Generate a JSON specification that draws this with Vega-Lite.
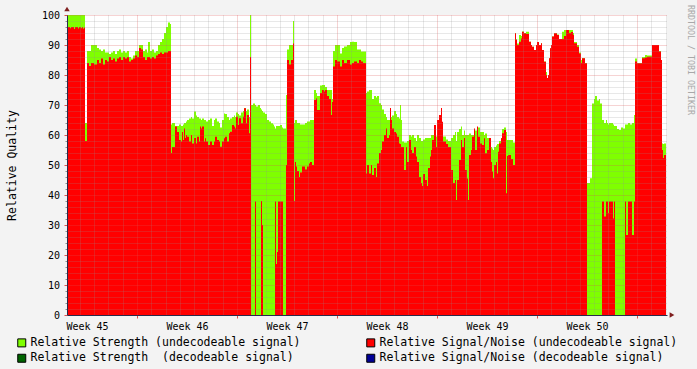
{
"$schema": "https://vega.github.io/schema/vega-lite/v6.json",
"width": 600, "height": 300,
"autosize": {"type": "none"},
"padding": {"left": 67, "top": 15, "right": 30, "bottom": 54},
"background": "#F3F3F3",
"config": {"view": {"stroke": null, "fill": "#FFFFFF"}, "font": "DejaVu Sans Mono"},
"title": {"text": "RRDTOOL / TOBI OETIKER", "orient": "right", "anchor": "start", "frame": "group", "font": "DejaVu Sans Mono", "fontSize": 8.3, "fontWeight": "normal", "color": "#A8A8A8", "offset": 9, "dx": -10},
"data": {"values": [
{"t":0,"strength":100,"snr":96},{"t":3,"strength":100,"snr":95.6},{"t":4,"strength":100,"snr":96},{"t":7,"strength":100,"snr":95.3},{"t":8,"strength":100,"snr":96},{"t":11,"strength":100,"snr":95.5},{"t":12,"strength":100,"snr":96},{"t":14,"strength":100,"snr":95.6},{"t":15,"strength":100,"snr":96},{"t":16,"strength":100,"snr":95.4},{"t":17,"strength":100,"snr":95.8},
{"t":18,"strength":64,"snr":58},{"t":20,"strength":88,"snr":84},{"t":22,"strength":88,"snr":83},{"t":24,"strength":90,"snr":84},{"t":27,"strength":90,"snr":83.5},{"t":30,"strength":89,"snr":85},{"t":32,"strength":88.5,"snr":84},{"t":34,"strength":88,"snr":85.5},{"t":36,"strength":88.5,"snr":83.5},{"t":38,"strength":87.5,"snr":85},{"t":40,"strength":87.5,"snr":84.5},{"t":42,"strength":87,"snr":86},{"t":44,"strength":87.5,"snr":85},{"t":46,"strength":88,"snr":85.5},{"t":48,"strength":87,"snr":84.5},{"t":50,"strength":88,"snr":85.5},{"t":52,"strength":88.5,"snr":86},{"t":54,"strength":87.5,"snr":85},{"t":56,"strength":88,"snr":86},{"t":58,"strength":87.5,"snr":85.5},{"t":60,"strength":88,"snr":86},{"t":62,"strength":86,"snr":84.5},{"t":64,"strength":85.5,"snr":85},{"t":66,"strength":86.5,"snr":85.5},{"t":68,"strength":88,"snr":86.5},{"t":70,"strength":88,"snr":86},{"t":72,"strength":90,"snr":89},{"t":74,"strength":90,"snr":88.5},{"t":76,"strength":88,"snr":86},{"t":78,"strength":88.5,"snr":85},{"t":80,"strength":87.5,"snr":86},{"t":81,"strength":91,"snr":86},{"t":83,"strength":88,"snr":85.5},{"t":85,"strength":88.5,"snr":86},{"t":87,"strength":87.5,"snr":85.5},{"t":89,"strength":88,"snr":86.5},{"t":91,"strength":90,"snr":87},{"t":93,"strength":91,"snr":87.5},{"t":95,"strength":92,"snr":87},{"t":97,"strength":94,"snr":87.5},{"t":99,"strength":96,"snr":87.5},{"t":101,"strength":97.5,"snr":88},{"t":103,"strength":97,"snr":88},
{"t":104,"strength":63.5,"snr":54},{"t":105,"strength":64,"snr":56},{"t":108,"strength":63,"snr":62.8},{"t":110,"strength":63,"snr":61},{"t":112,"strength":63.5,"snr":58.3},{"t":114,"strength":63,"snr":57.8},{"t":115,"strength":63,"snr":61},{"t":116,"strength":63.5,"snr":58.3},{"t":117,"strength":64,"snr":62.2},{"t":118,"strength":64,"snr":59},{"t":119,"strength":64.5,"snr":60},{"t":120,"strength":65,"snr":59.4},{"t":122,"strength":65.5,"snr":57.8},{"t":124,"strength":66,"snr":60},{"t":125,"strength":65.5,"snr":57.2},{"t":127,"strength":67.8,"snr":59},{"t":129,"strength":66.5,"snr":57.2},{"t":130,"strength":66,"snr":59.4},{"t":132,"strength":65.5,"snr":57.8},{"t":133,"strength":65.5,"snr":62.8},{"t":134,"strength":65,"snr":62.2},{"t":135,"strength":65.5,"snr":62.8},{"t":137,"strength":65,"snr":57.8},{"t":138,"strength":65,"snr":58.9},{"t":139,"strength":64.5,"snr":57.8},{"t":141,"strength":65,"snr":56.7},{"t":143,"strength":65.5,"snr":57.8},{"t":145,"strength":63,"snr":56.7},{"t":147,"strength":65,"snr":57.8},{"t":148,"strength":65.5,"snr":59.4},{"t":150,"strength":64.5,"snr":58.3},{"t":152,"strength":64,"snr":57.8},{"t":153,"strength":62.5,"snr":56.1},{"t":155,"strength":65,"snr":57.8},{"t":157,"strength":67.2,"snr":58.9},{"t":158,"strength":67,"snr":59.4},{"t":160,"strength":66,"snr":57.8},{"t":162,"strength":65,"snr":60.6},{"t":163,"strength":65.5,"snr":61.1},{"t":165,"strength":66,"snr":63.3},{"t":167,"strength":66.5,"snr":62.8},{"t":168,"strength":66,"snr":62.2},{"t":169,"strength":67.5,"snr":66.1},{"t":171,"strength":67,"snr":63.3},{"t":172,"strength":66.5,"snr":65.6},{"t":174,"strength":67.5,"snr":63.9},{"t":176,"strength":68,"snr":66.1},{"t":177,"strength":69,"snr":68.9},{"t":179,"strength":68,"snr":63.9},{"t":180,"strength":68.5,"snr":66.7},{"t":182,"strength":66,"snr":60.6},{"t":183,"strength":100,"snr":86},
{"t":184,"strength":70,"snr":0},{"t":186,"strength":70.5,"snr":0},{"t":188,"strength":70,"snr":37.8},{"t":189,"strength":69.5,"snr":0},{"t":191,"strength":70,"snr":0},{"t":193,"strength":69,"snr":0},{"t":194,"strength":68.5,"snr":38},{"t":195,"strength":68,"snr":30},{"t":196,"strength":67.5,"snr":0},{"t":198,"strength":67,"snr":0},{"t":200,"strength":65,"snr":0},{"t":202,"strength":64.5,"snr":0},{"t":204,"strength":63.9,"snr":0},{"t":206,"strength":63.5,"snr":0},{"t":207,"strength":62.8,"snr":0},{"t":208,"strength":62.2,"snr":37.8},{"t":209,"strength":63,"snr":17},{"t":210,"strength":63,"snr":21},{"t":211,"strength":63,"snr":37.8},{"t":213,"strength":63.3,"snr":37.8},{"t":215,"strength":62.5,"snr":37.8},{"t":216,"strength":62.2,"snr":0},
{"t":219,"strength":73.3,"snr":50},{"t":220,"strength":88.5,"snr":85},{"t":222,"strength":90,"snr":83.5},{"t":224,"strength":90,"snr":85},{"t":226,"strength":98,"snr":90.5},{"t":227,"strength":64,"snr":38},{"t":228,"strength":65,"snr":51},{"t":229,"strength":65,"snr":49.5},{"t":230,"strength":64,"snr":48},{"t":232,"strength":64,"snr":46},{"t":233,"strength":63.5,"snr":47.5},{"t":235,"strength":63.5,"snr":49.5},{"t":238,"strength":64,"snr":48.5},{"t":240,"strength":64.5,"snr":49.5},{"t":242,"strength":64.5,"snr":50.5},{"t":243,"strength":65,"snr":51},{"t":245,"strength":65,"snr":50},
{"t":247,"strength":75,"snr":71.7},{"t":249,"strength":74,"snr":72.2},{"t":250,"strength":73,"snr":68.3},{"t":253,"strength":76.5,"snr":74},{"t":255,"strength":76.7,"snr":75},{"t":257,"strength":76.7,"snr":74.5},{"t":258,"strength":76,"snr":75},{"t":260,"strength":75,"snr":73},{"t":262,"strength":75,"snr":72},{"t":264,"strength":75,"snr":66.7},{"t":265,"strength":72,"snr":71},
{"t":266,"strength":88,"snr":82.8},{"t":268,"strength":90,"snr":85},{"t":270,"strength":90,"snr":84.5},{"t":273,"strength":87.2,"snr":82.8},{"t":275,"strength":89,"snr":85},{"t":277,"strength":89.5,"snr":84},{"t":280,"strength":90,"snr":85},{"t":283,"strength":91,"snr":83.5},{"t":285,"strength":91.1,"snr":84},{"t":287,"strength":91,"snr":84.5},{"t":290,"strength":88.5,"snr":84},{"t":292,"strength":88.5,"snr":85},{"t":294,"strength":87.8,"snr":84.5},{"t":296,"strength":87.8,"snr":84},
{"t":299,"strength":74,"snr":47.2},{"t":300,"strength":74.5,"snr":50},{"t":302,"strength":75,"snr":47.2},{"t":304,"strength":75,"snr":50},{"t":305,"strength":72,"snr":46.7},{"t":307,"strength":73,"snr":49},{"t":309,"strength":72.5,"snr":46},{"t":310,"strength":73,"snr":50.5},{"t":312,"strength":70.6,"snr":54},{"t":314,"strength":70,"snr":55},{"t":315,"strength":68.5,"snr":57.8},{"t":317,"strength":67,"snr":60},{"t":319,"strength":66,"snr":62.2},{"t":320,"strength":65,"snr":59},{"t":322,"strength":65,"snr":60},{"t":323,"strength":66,"snr":69},{"t":324,"strength":66,"snr":65},{"t":325,"strength":66.5,"snr":62.2},{"t":327,"strength":68,"snr":61},{"t":329,"strength":67,"snr":60.5},{"t":330,"strength":66,"snr":59.4},{"t":332,"strength":65.5,"snr":57.2},{"t":333,"strength":70,"snr":57},{"t":334,"strength":65,"snr":56},
{"t":335,"strength":57.8,"snr":56},{"t":337,"strength":57.5,"snr":48.3},{"t":339,"strength":57.5,"snr":56},{"t":340,"strength":58,"snr":51},{"t":342,"strength":60,"snr":58.3},{"t":344,"strength":59.5,"snr":55},{"t":345,"strength":60,"snr":54},{"t":347,"strength":59,"snr":56},{"t":349,"strength":58,"snr":52.8},{"t":350,"strength":60,"snr":51},{"t":352,"strength":59,"snr":46},{"t":354,"strength":58,"snr":44},{"t":355,"strength":58,"snr":43},{"t":356,"strength":58.5,"snr":47},{"t":358,"strength":59,"snr":45},{"t":360,"strength":59,"snr":43},{"t":361,"strength":59,"snr":49},{"t":363,"strength":59,"snr":52.8},{"t":364,"strength":60,"snr":55},{"t":365,"strength":60,"snr":58.3},{"t":367,"strength":60,"snr":63.3},{"t":369,"strength":59.5,"snr":56},{"t":370,"strength":59,"snr":65},{"t":372,"strength":59,"snr":66.7},{"t":374,"strength":59,"snr":69},{"t":375,"strength":59,"snr":64.4},{"t":376,"strength":59.5,"snr":57.8},{"t":379,"strength":58.5,"snr":57},{"t":381,"strength":58,"snr":56},{"t":384,"strength":59,"snr":48.3},{"t":386,"strength":60,"snr":44},{"t":388,"strength":61,"snr":45},{"t":389,"strength":58,"snr":38.3},{"t":390,"strength":61,"snr":45},{"t":392,"strength":62,"snr":51.7},{"t":394,"strength":62.8,"snr":58.3},{"t":395,"strength":60,"snr":56},{"t":397,"strength":61.5,"snr":59},{"t":398,"strength":60,"snr":48.3},{"t":400,"strength":60,"snr":45.5},{"t":401,"strength":60,"snr":38.3},{"t":402,"strength":60.5,"snr":53.3},{"t":404,"strength":60,"snr":55},{"t":405,"strength":60,"snr":59.4},{"t":407,"strength":61,"snr":62.2},{"t":408,"strength":61.5,"snr":55},{"t":410,"strength":62,"snr":62.8},{"t":411,"strength":62.5,"snr":59.4},{"t":413,"strength":61,"snr":57.2},{"t":415,"strength":61,"snr":56.7},{"t":417,"strength":60,"snr":58.9},{"t":418,"strength":60.5,"snr":53.9},{"t":420,"strength":59,"snr":55},{"t":422,"strength":58.5,"snr":59},{"t":424,"strength":56,"snr":51},{"t":425,"strength":55.5,"snr":47.8},{"t":426,"strength":55,"snr":45.6},{"t":427,"strength":56,"snr":50},{"t":429,"strength":56.5,"snr":51},{"t":430,"strength":57,"snr":47.2},{"t":431,"strength":57,"snr":54.4},{"t":432,"strength":58,"snr":57.2},{"t":434,"strength":59,"snr":58.9},{"t":435,"strength":62,"snr":60.6},{"t":437,"strength":62.5,"snr":61.7},{"t":439,"strength":61,"snr":40.6},{"t":440,"strength":58.3,"snr":53},{"t":441,"strength":58.3,"snr":53.3},{"t":444,"strength":58.3,"snr":52},{"t":446,"strength":57.5,"snr":50},
{"t":448,"strength":94,"snr":93.9},{"t":449,"strength":92,"snr":91.7},{"t":450,"strength":90.5,"snr":90},{"t":452,"strength":93.3,"snr":91.1},{"t":454,"strength":93,"snr":92.2},{"t":455,"strength":94.5,"snr":94.4},{"t":457,"strength":94,"snr":93.9},{"t":459,"strength":94.4,"snr":93.7},{"t":462,"strength":91.1,"snr":91.1},{"t":464,"strength":90,"snr":90},{"t":465,"strength":89.4,"snr":89.4},{"t":467,"strength":88.3,"snr":88.3},{"t":469,"strength":90,"snr":90},{"t":470,"strength":91,"snr":91},{"t":472,"strength":90,"snr":90},{"t":474,"strength":90.6,"snr":90.6},{"t":475,"strength":88.3,"snr":88.3},{"t":477,"strength":84.5,"snr":84.4},{"t":479,"strength":81,"snr":80},{"t":480,"strength":79,"snr":79},{"t":481,"strength":80,"snr":80},{"t":482,"strength":85.6,"snr":85.6},{"t":483,"strength":88.9,"snr":88.9},{"t":484,"strength":90,"snr":90},{"t":485,"strength":92.8,"snr":92.8},{"t":487,"strength":93.9,"snr":93.9},{"t":490,"strength":93.5,"snr":93.3},{"t":492,"strength":92,"snr":92},{"t":495,"strength":94.4,"snr":92},{"t":497,"strength":95,"snr":93},{"t":499,"strength":95,"snr":95},{"t":502,"strength":95,"snr":94},{"t":504,"strength":95,"snr":94.3},{"t":506,"strength":94,"snr":93.3},{"t":507,"strength":91,"snr":90.6},{"t":510,"strength":90,"snr":89.4},{"t":512,"strength":87.5,"snr":87.2},{"t":514,"strength":85,"snr":84},{"t":515,"strength":85.6,"snr":85.6},{"t":518,"strength":84,"snr":83.9},
{"t":520,"strength":44,"snr":0},{"t":523,"strength":45.6,"snr":0},{"t":525,"strength":70.5,"snr":0},{"t":527,"strength":72,"snr":0},{"t":528,"strength":73,"snr":0},{"t":530,"strength":71.5,"snr":0},{"t":532,"strength":72,"snr":0},{"t":533,"strength":70.5,"snr":0},{"t":535,"strength":65,"snr":37.8},{"t":537,"strength":64,"snr":32.8},{"t":539,"strength":65,"snr":37.8},{"t":540,"strength":64,"snr":37.8},{"t":541,"strength":63.5,"snr":34},{"t":542,"strength":64,"snr":37.8},{"t":544,"strength":64,"snr":37.8},{"t":546,"strength":63.5,"snr":32.2},{"t":547,"strength":63,"snr":37.8},{"t":548,"strength":63,"snr":0},{"t":550,"strength":62,"snr":0},{"t":552,"strength":61.7,"snr":0},{"t":554,"strength":62.5,"snr":0},{"t":556,"strength":62.2,"snr":0},{"t":558,"strength":63.5,"snr":37.8},{"t":559,"strength":63.5,"snr":26.7},{"t":561,"strength":64,"snr":37.8},{"t":563,"strength":63.5,"snr":37.8},{"t":565,"strength":64,"snr":26.7},{"t":567,"strength":66.7,"snr":37.8},
{"t":568,"strength":85.5,"snr":84.5},{"t":570,"strength":84,"snr":83.9},{"t":575,"strength":86,"snr":85.6},{"t":578,"strength":86.7,"snr":85.8},{"t":580,"strength":86.5,"snr":86.1},{"t":582,"strength":86.5,"snr":86.1},{"t":585,"strength":90,"snr":90},{"t":592,"strength":88,"snr":87.8},{"t":594,"strength":85,"snr":85},{"t":595,"strength":57.2,"snr":55},{"t":596,"strength":57,"snr":52.3},{"t":597,"strength":57.2,"snr":53.3},{"t":599,"strength":57.2,"snr":53.3}
]},
"layer": [
{"mark": {"type": "area", "interpolate": "step-after"},
 "encoding": {
  "x": {"field": "t", "type": "quantitative", "scale": {"domain": [0, 600], "nice": false, "zero": false},
   "axis": {"orient": "bottom", "values": [12.857,27.143,41.429,55.714,84.286,98.571,112.857,127.143,141.429,155.714,184.286,198.571,212.857,227.143,241.429,255.714,284.286,298.571,312.857,327.143,341.429,355.714,384.286,398.571,412.857,427.143,441.429,455.714,484.286,498.571,512.857,527.143,541.429,555.714,584.286,598.571],
    "grid": true, "gridColor": "#8F8F8F", "gridOpacity": 0.42, "gridDash": [1, 1], "labels": false, "ticks": false, "domain": false, "title": null, "zindex": 1}},
  "y": {"field": "strength", "type": "quantitative", "stack": null, "scale": {"domain": [0, 100], "nice": false},
   "axis": {"orient": "left", "values": [2,4,6,8,12,14,16,18,22,24,26,28,32,34,36,38,42,44,46,48,52,54,56,58,62,64,66,68,72,74,76,78,82,84,86,88,92,94,96,98],
    "grid": true, "gridColor": "#8F8F8F", "gridOpacity": 0.42, "gridDash": [1, 1], "labels": false, "ticks": true, "tickSize": 2, "tickColor": "#8F8F8F", "domain": false, "title": null, "zindex": 1}},
  "color": {"datum": "Relative Strength (undecodeable signal)", "type": "nominal",
   "scale": {"domain": ["Relative Strength (undecodeable signal)", "Relative Signal/Noise (undecodeable signal)", "Relative Strength\u00a0 (decodeable signal)", "Relative Signal/Noise (decodeable signal)"], "range": ["#7FFF00", "#FF0000", "#006400", "#000096"]},
   "legend": {"orient": "none", "legendX": -51, "legendY": 322, "columns": 2, "direction": "horizontal", "title": null, "symbolType": "square", "symbolSize": 64, "symbolStrokeColor": "#000000", "symbolStrokeWidth": 1, "symbolOpacity": 1, "labelFont": "DejaVu Sans Mono", "labelFontSize": 11.5, "labelColor": "#000000", "labelLimit": 400, "columnPadding": 63, "rowPadding": 2.5, "labelOffset": 3}}
 }},
{"mark": {"type": "area", "interpolate": "step-after"},
 "encoding": {
  "x": {"field": "t", "type": "quantitative", "scale": {"domain": [0, 600], "nice": false, "zero": false},
   "axis": {"orient": "bottom", "values": [70, 170, 270, 370, 470, 570], "labelExpr": "'Week ' + (45 + round((datum.value - 70) / 100))", "labelOffset": -50, "labelOverlap": false, "labelBound": false, "labelFlush": false,
    "labelFont": "DejaVu Sans Mono", "labelFontSize": 10, "labelColor": "#000000", "labelPadding": 3,
    "grid": true, "gridColor": "#DE5050", "gridOpacity": 0.5, "gridDash": [1, 1], "ticks": true, "tickSize": 3, "tickColor": "#DE5050",
    "domain": true, "domainColor": "#2A2A4A", "domainWidth": 1, "title": null, "zindex": 1}},
  "y": {"field": "snr", "type": "quantitative", "stack": null, "scale": {"domain": [0, 100], "nice": false},
   "axis": {"orient": "left", "values": [0,10,20,30,40,50,60,70,80,90,100],
    "grid": true, "gridColor": "#DE5050", "gridOpacity": 0.5, "gridDash": [1, 1], "ticks": true, "tickSize": 3, "tickColor": "#DE5050",
    "labelFont": "DejaVu Sans Mono", "labelFontSize": 10, "labelColor": "#000000", "labelPadding": 4.5,
    "domain": true, "domainColor": "#2A2A4A", "domainWidth": 1,
    "title": "Relative Quality", "titleFont": "DejaVu Sans Mono", "titleFontSize": 11.5, "titleFontWeight": "normal", "titleColor": "#000000", "titlePadding": 24, "zindex": 1}},
  "color": {"datum": "Relative Signal/Noise (undecodeable signal)", "type": "nominal"}
 }},
{"data": {"values": [{}]},
 "mark": {"type": "point", "shape": "triangle-up", "filled": true, "color": "#7F1F1F", "size": 30, "opacity": 1},
 "encoding": {
  "x": {"datum": 0, "type": "quantitative", "scale": {"domain": [0, 600], "nice": false, "zero": false}, "axis": null},
  "y": {"datum": 102, "type": "quantitative", "scale": {"domain": [0, 100], "nice": false}, "axis": null}}},
{"data": {"values": [{}]},
 "mark": {"type": "point", "shape": "triangle-right", "filled": true, "color": "#7F1F1F", "size": 30, "opacity": 1},
 "encoding": {
  "x": {"datum": 605, "type": "quantitative", "scale": {"domain": [0, 600], "nice": false, "zero": false}, "axis": null},
  "y": {"datum": 0, "type": "quantitative", "scale": {"domain": [0, 100], "nice": false}, "axis": null}}}
],
"resolve": {"axis": {"x": "independent", "y": "independent"}}
}
